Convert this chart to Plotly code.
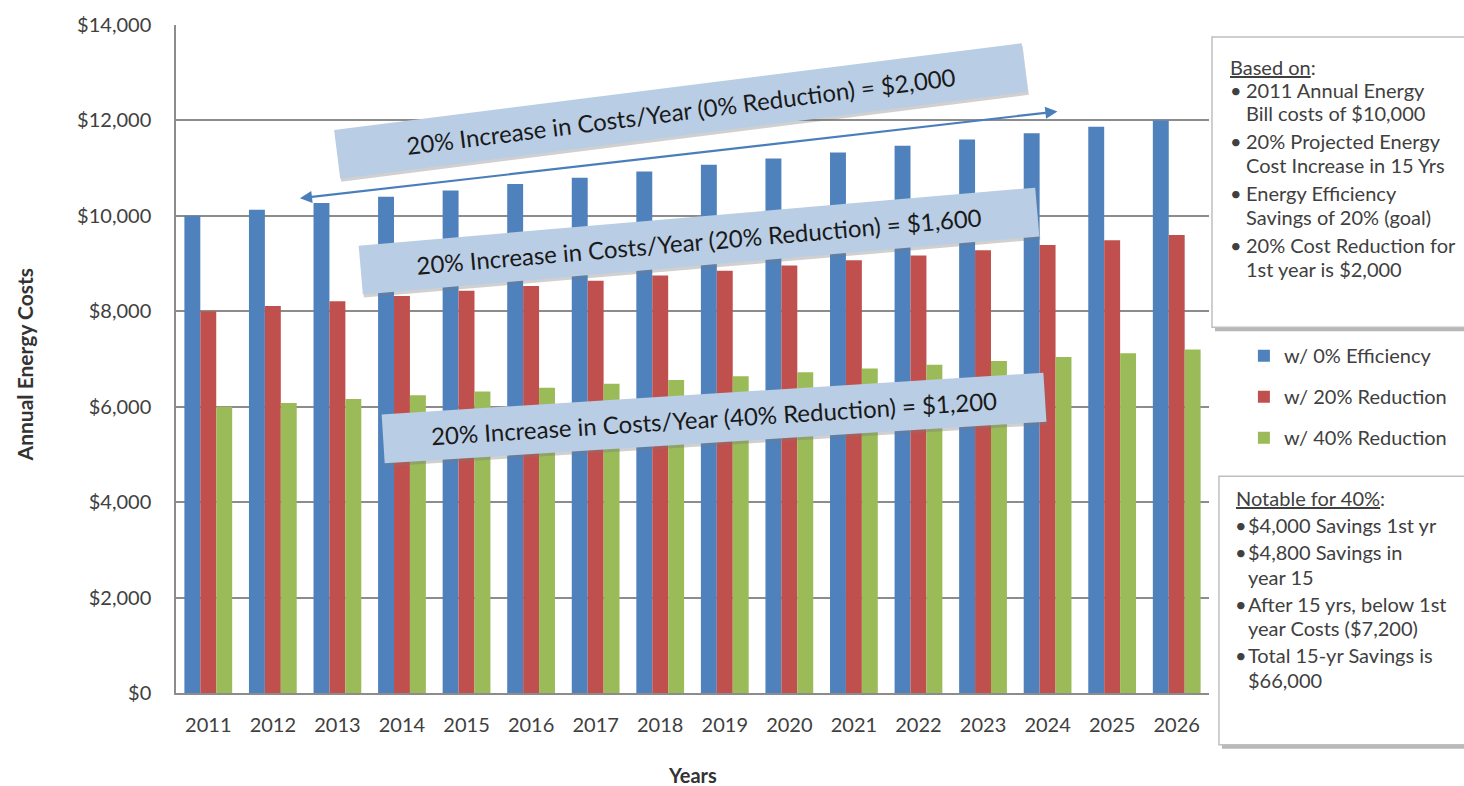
import plotly.graph_objects as go

# ---- data -------------------------------------------------------------
years = ["2011", "2012", "2013", "2014", "2015", "2016", "2017", "2018",
         "2019", "2020", "2021", "2022", "2023", "2024", "2025", "2026"]

cost_0pct = [10000, 10130, 10270, 10400, 10530, 10670, 10800, 10930,
             11070, 11200, 11330, 11470, 11600, 11730, 11870, 12000]
cost_20pct = [8000, 8110, 8210, 8320, 8430, 8530, 8640, 8750,
              8850, 8960, 9070, 9170, 9280, 9390, 9490, 9600]
cost_40pct = [6000, 6080, 6160, 6240, 6320, 6400, 6480, 6560,
              6640, 6720, 6800, 6880, 6960, 7040, 7120, 7200]

series_names = ["w/ 0% Efficiency", "w/ 20% Reduction", "w/ 40% Reduction"]
series_values = [cost_0pct, cost_20pct, cost_40pct]
series_colors = ["#4F81BD", "#C0504D", "#9BBB59"]

trend_labels = [
    "20% Increase in Costs/Year (0% Reduction) = $2,000",
    "20% Increase in Costs/Year (20% Reduction) = $1,600",
    "20% Increase in Costs/Year (40% Reduction) = $1,200",
]

based_on_title = "Based on"
based_on_items = [
    ["2011 Annual Energy", "Bill costs of $10,000"],
    ["20% Projected Energy", "Cost Increase in 15 Yrs"],
    ["Energy Efficiency", "Savings of 20% (goal)"],
    ["20% Cost Reduction for", "1st year is $2,000"],
]
notable_title = "Notable for 40%"
notable_items = [
    ["$4,000 Savings 1st yr"],
    ["$4,800 Savings in", "year 15"],
    ["After 15 yrs, below 1st", "year Costs ($7,200)"],
    ["Total 15-yr Savings is", "$66,000"],
]

# ---- page geometry (pixels) -------------------------------------------
FIG_W, FIG_H = 1464, 786
PLOT_L, PLOT_R, PLOT_T, PLOT_B = 176, 1212, 21, 693
FONT = "Lato"
TEXT_GREY = "#404040"


def px(x):
    """pixel column -> paper x"""
    return (x - PLOT_L) / (PLOT_R - PLOT_L)


def py(y):
    """pixel row -> paper y"""
    return (PLOT_B - y) / (PLOT_B - PLOT_T)


fig = go.Figure()
for name, vals, col in zip(series_names, series_values, series_colors):
    fig.add_trace(go.Bar(
        x=years, y=vals, name=name, legendgroup=name,
        marker=dict(color=col, line=dict(width=0)),
    ))

annotations = []
shapes = []

# rotated call-out banners across the bars
banner_geom = [  # centre x, centre y, angle, width
    (682, 108, -7.2, 680),
    (701, 238, -4.9, 666),
    (716, 416, -3.6, 650),
]
for label, (cx, cy, ang, w) in zip(trend_labels, banner_geom):
    annotations.append(dict(
        x=px(cx), y=py(cy), xref="paper", yref="paper",
        xanchor="center", yanchor="middle", showarrow=False,
        text=label, textangle=ang, width=w, height=36, borderpad=6,
        xshift=1, yshift=-3,
        font=dict(family=FONT, size=24, color="rgba(0,0,0,0)"),
        bgcolor="rgba(120,120,120,0.35)",
    ))
    annotations.append(dict(
        x=px(cx), y=py(cy), xref="paper", yref="paper",
        xanchor="center", yanchor="middle", showarrow=False,
        text=label, textangle=ang, width=w, height=36, borderpad=6,
        font=dict(family=FONT, size=24, color="#1a1a1a"),
        bgcolor="#B9CDE5",
    ))

# double-headed trend arrow
annotations.append(dict(
    x=px(1060), y=py(108), xref="paper", yref="paper",
    ax=301 - 1060, ay=195 - 108, text="", showarrow=True,
    arrowside="end+start", arrowhead=2, startarrowhead=2,
    arrowsize=1.1, startarrowsize=1.1, arrowwidth=2.2,
    arrowcolor="#4A7EBB", standoff=0, startstandoff=0,
))


def text_box(top, bottom, left, title, items, head_x, bullet_x, text_x,
             title_y, head_gap, line_gap, item_gap):
    shapes.append(dict(type="rect", xref="paper", yref="paper",
                       x0=px(left + 3), x1=px(1480), y0=py(bottom + 4), y1=py(top + 4),
                       fillcolor="rgba(0,0,0,0.28)", line=dict(width=0)))
    shapes.append(dict(type="rect", xref="paper", yref="paper",
                       x0=px(left), x1=px(1480), y0=py(bottom), y1=py(top),
                       fillcolor="white", line=dict(color="#BFBFBF", width=1.5)))
    annotations.append(dict(
        x=px(head_x), y=py(title_y), xref="paper", yref="paper",
        xanchor="left", yanchor="middle", showarrow=False,
        text="<u>" + title + "</u>:",
        font=dict(family=FONT, size=20, color=TEXT_GREY)))
    y = title_y + head_gap
    for i, lines in enumerate(items):
        if i > 0:
            y += item_gap
        annotations.append(dict(
            x=px(bullet_x), y=py(y), xref="paper", yref="paper",
            xanchor="center", yanchor="middle", showarrow=False,
            text="•", font=dict(family=FONT, size=20, color=TEXT_GREY)))
        for j, line in enumerate(lines):
            if j > 0:
                y += line_gap
            annotations.append(dict(
                x=px(text_x), y=py(y), xref="paper", yref="paper",
                xanchor="left", yanchor="middle", showarrow=False,
                text=line, font=dict(family=FONT, size=20, color=TEXT_GREY)))


text_box(33, 325, 1215, based_on_title, based_on_items,
         head_x=1231, bullet_x=1239, text_x=1247,
         title_y=63, head_gap=23, line_gap=24, item_gap=28)
text_box(475, 745, 1222, notable_title, notable_items,
         head_x=1237, bullet_x=1244, text_x=1249,
         title_y=497, head_gap=27, line_gap=25, item_gap=27)

# axis titles
annotations.append(dict(
    x=px(25), y=py(363), xref="paper", yref="paper", showarrow=False,
    xanchor="center", yanchor="middle", textangle=-90,
    text="<b>Annual Energy Costs</b>",
    font=dict(family=FONT, size=21, color="#333333")))
annotations.append(dict(
    x=px(694), y=py(775), xref="paper", yref="paper", showarrow=False,
    xanchor="center", yanchor="middle",
    text="<b>Years</b>",
    font=dict(family=FONT, size=20, color="#333333")))

fig.update_layout(
    width=FIG_W, height=FIG_H,
    margin=dict(l=PLOT_L, r=FIG_W - PLOT_R, t=PLOT_T, b=FIG_H - PLOT_B),
    paper_bgcolor="white", plot_bgcolor="white",
    barmode="group", bargap=0.26, bargroupgap=0,
    font=dict(family=FONT, color=TEXT_GREY),
    annotations=annotations, shapes=shapes,
    legend=dict(
        x=px(1247), y=py(334), xref="paper", yref="paper",
        xanchor="left", yanchor="top",
        font=dict(family=FONT, size=20, color=TEXT_GREY),
        tracegroupgap=12, bgcolor="rgba(0,0,0,0)",
    ),
)

fig.update_xaxes(
    type="category", showgrid=False, ticks="",
    showline=True, linecolor="#8C8C8C", linewidth=1.5,
    tickfont=dict(family=FONT, size=20, color=TEXT_GREY),
    ticklabelstandoff=13,
)
fig.update_yaxes(
    range=[0, 14000], dtick=2000, tickprefix="$", tickformat=",",
    showgrid=True, gridcolor="#8C8C8C", gridwidth=1.5,
    showline=True, linecolor="#8C8C8C", linewidth=1.5,
    zeroline=False, ticks="",
    tickfont=dict(family=FONT, size=20, color=TEXT_GREY),
    ticklabelstandoff=19,
)

fig.write_html("out.html")
